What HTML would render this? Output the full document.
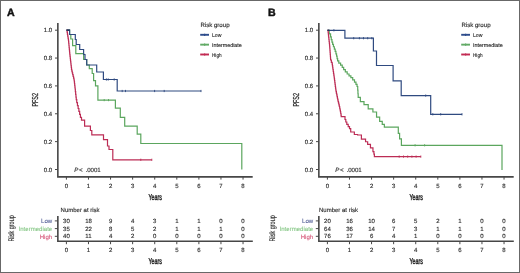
<!DOCTYPE html>
<html><head><meta charset="utf-8"><style>
html,body{margin:0;padding:0;background:#fff;}
body{width:520px;height:273px;overflow:hidden;font-family:"Liberation Sans",sans-serif;}
svg{display:block;will-change:transform;}
</style></head><body>
<svg width="520" height="273" viewBox="0 0 520 273" font-family="Liberation Sans, sans-serif" text-rendering="geometricPrecision">
<rect x="0" y="0" width="520" height="273" fill="#fff"/>
<g><text x="7" y="15.9" font-size="10.6" font-weight="bold" fill="#111" stroke="#111" stroke-width="0.45">A</text>
<path d="M57.85 23V176.85H252.7" fill="none" stroke="#474747" stroke-width="1.6"/>
<line x1="55" y1="169.5" x2="57.7" y2="169.5" stroke="#474747" stroke-width="1"/>
<text x="52.2" y="171.6" font-size="6" text-anchor="end" fill="#2a2a2a" stroke="#2a2a2a" stroke-width="0.13">0.0</text>
<line x1="55" y1="141.64" x2="57.7" y2="141.64" stroke="#474747" stroke-width="1"/>
<text x="52.2" y="143.74" font-size="6" text-anchor="end" fill="#2a2a2a" stroke="#2a2a2a" stroke-width="0.13">0.2</text>
<line x1="55" y1="113.78" x2="57.7" y2="113.78" stroke="#474747" stroke-width="1"/>
<text x="52.2" y="115.88" font-size="6" text-anchor="end" fill="#2a2a2a" stroke="#2a2a2a" stroke-width="0.13">0.4</text>
<line x1="55" y1="85.92" x2="57.7" y2="85.92" stroke="#474747" stroke-width="1"/>
<text x="52.2" y="88.02" font-size="6" text-anchor="end" fill="#2a2a2a" stroke="#2a2a2a" stroke-width="0.13">0.6</text>
<line x1="55" y1="58.06" x2="57.7" y2="58.06" stroke="#474747" stroke-width="1"/>
<text x="52.2" y="60.16" font-size="6" text-anchor="end" fill="#2a2a2a" stroke="#2a2a2a" stroke-width="0.13">0.8</text>
<line x1="55" y1="30.2" x2="57.7" y2="30.2" stroke="#474747" stroke-width="1"/>
<text x="52.2" y="32.3" font-size="6" text-anchor="end" fill="#2a2a2a" stroke="#2a2a2a" stroke-width="0.13">1.0</text>
<line x1="66.4" y1="176.6" x2="66.4" y2="179.6" stroke="#474747" stroke-width="1"/>
<text x="66.4" y="188.1" font-size="6" text-anchor="middle" fill="#2a2a2a" stroke="#2a2a2a" stroke-width="0.13">0</text>
<line x1="88.48" y1="176.6" x2="88.48" y2="179.6" stroke="#474747" stroke-width="1"/>
<text x="88.48" y="188.1" font-size="6" text-anchor="middle" fill="#2a2a2a" stroke="#2a2a2a" stroke-width="0.13">1</text>
<line x1="110.56" y1="176.6" x2="110.56" y2="179.6" stroke="#474747" stroke-width="1"/>
<text x="110.56" y="188.1" font-size="6" text-anchor="middle" fill="#2a2a2a" stroke="#2a2a2a" stroke-width="0.13">2</text>
<line x1="132.64" y1="176.6" x2="132.64" y2="179.6" stroke="#474747" stroke-width="1"/>
<text x="132.64" y="188.1" font-size="6" text-anchor="middle" fill="#2a2a2a" stroke="#2a2a2a" stroke-width="0.13">3</text>
<line x1="154.72" y1="176.6" x2="154.72" y2="179.6" stroke="#474747" stroke-width="1"/>
<text x="154.72" y="188.1" font-size="6" text-anchor="middle" fill="#2a2a2a" stroke="#2a2a2a" stroke-width="0.13">4</text>
<line x1="176.8" y1="176.6" x2="176.8" y2="179.6" stroke="#474747" stroke-width="1"/>
<text x="176.8" y="188.1" font-size="6" text-anchor="middle" fill="#2a2a2a" stroke="#2a2a2a" stroke-width="0.13">5</text>
<line x1="198.88" y1="176.6" x2="198.88" y2="179.6" stroke="#474747" stroke-width="1"/>
<text x="198.88" y="188.1" font-size="6" text-anchor="middle" fill="#2a2a2a" stroke="#2a2a2a" stroke-width="0.13">6</text>
<line x1="220.96" y1="176.6" x2="220.96" y2="179.6" stroke="#474747" stroke-width="1"/>
<text x="220.96" y="188.1" font-size="6" text-anchor="middle" fill="#2a2a2a" stroke="#2a2a2a" stroke-width="0.13">7</text>
<line x1="243.04" y1="176.6" x2="243.04" y2="179.6" stroke="#474747" stroke-width="1"/>
<text x="243.04" y="188.1" font-size="6" text-anchor="middle" fill="#2a2a2a" stroke="#2a2a2a" stroke-width="0.13">8</text>
<text transform="translate(155.1 199.8) scale(0.62 1)" font-size="8.6" text-anchor="middle" fill="#222" stroke="#222" stroke-width="0.42">Years</text>
<text transform="translate(37.9 99.8) rotate(-90) scale(0.63 1)" font-size="8.6" text-anchor="middle" fill="#2a2a2a" stroke="#2a2a2a" stroke-width="0.3">PFS2</text>
<text x="200.4" y="27.1" font-size="6.1" fill="#2a2a2a" stroke="#2a2a2a" stroke-width="0.13">Risk group</text>
<line x1="200.2" y1="34.8" x2="209" y2="34.8" stroke="#2e4d8c" stroke-width="1.9"/>
<line x1="204.6" y1="33.7" x2="204.6" y2="35.9" stroke="#2e4d8c" stroke-width="1.2"/>
<text x="212" y="36.8" font-size="5.5" fill="#2a2a2a" textLength="9.4" lengthAdjust="spacingAndGlyphs" stroke="#2a2a2a" stroke-width="0.13">Low</text>
<line x1="200.2" y1="44.65" x2="209" y2="44.65" stroke="#62aa66" stroke-width="1.9"/>
<line x1="204.6" y1="43.55" x2="204.6" y2="45.75" stroke="#62aa66" stroke-width="1.2"/>
<text x="212" y="46.65" font-size="5.5" fill="#2a2a2a" textLength="29.8" lengthAdjust="spacingAndGlyphs" stroke="#2a2a2a" stroke-width="0.13">Intermediate</text>
<line x1="200.2" y1="54.5" x2="209" y2="54.5" stroke="#c22a52" stroke-width="1.9"/>
<line x1="204.6" y1="53.4" x2="204.6" y2="55.6" stroke="#c22a52" stroke-width="1.2"/>
<text x="212" y="56.5" font-size="5.5" fill="#2a2a2a" textLength="9.6" lengthAdjust="spacingAndGlyphs" stroke="#2a2a2a" stroke-width="0.13">High</text>
<text x="74.3" y="171.5" font-size="6.1" font-style="italic" fill="#2a2a2a" stroke="#2a2a2a" stroke-width="0.13">P</text>
<text x="78.9" y="171.5" font-size="6.2" fill="#2a2a2a" stroke="#2a2a2a" stroke-width="0.13">&lt;</text>
<text x="85.5" y="171.5" font-size="6.1" fill="#2a2a2a" stroke="#2a2a2a" stroke-width="0.13">.0001</text>
<text x="60.6" y="211.6" font-size="6" fill="#2a2a2a" stroke="#2a2a2a" stroke-width="0.13">Number at risk</text>
<path d="M57.85 216V241.3H252.8" fill="none" stroke="#474747" stroke-width="1.6"/>
<line x1="54.8" y1="220.9" x2="57.7" y2="220.9" stroke="#474747" stroke-width="1"/>
<text x="52.2" y="223.1" font-size="6.05" text-anchor="end" fill="#525f96" stroke="#525f96" stroke-width="0.1">Low</text>
<line x1="54.8" y1="228.6" x2="57.7" y2="228.6" stroke="#474747" stroke-width="1"/>
<text x="52.2" y="230.8" font-size="6.05" text-anchor="end" fill="#88c888" stroke="#88c888" stroke-width="0.1">Intermediate</text>
<line x1="54.8" y1="236.3" x2="57.7" y2="236.3" stroke="#474747" stroke-width="1"/>
<text x="52.2" y="238.5" font-size="6.05" text-anchor="end" fill="#d6587a" stroke="#d6587a" stroke-width="0.1">High</text>
<line x1="66.4" y1="241.2" x2="66.4" y2="244.2" stroke="#474747" stroke-width="1"/>
<text x="66.4" y="252.1" font-size="6" text-anchor="middle" fill="#2a2a2a" stroke="#2a2a2a" stroke-width="0.13">0</text>
<line x1="88.48" y1="241.2" x2="88.48" y2="244.2" stroke="#474747" stroke-width="1"/>
<text x="88.48" y="252.1" font-size="6" text-anchor="middle" fill="#2a2a2a" stroke="#2a2a2a" stroke-width="0.13">1</text>
<line x1="110.56" y1="241.2" x2="110.56" y2="244.2" stroke="#474747" stroke-width="1"/>
<text x="110.56" y="252.1" font-size="6" text-anchor="middle" fill="#2a2a2a" stroke="#2a2a2a" stroke-width="0.13">2</text>
<line x1="132.64" y1="241.2" x2="132.64" y2="244.2" stroke="#474747" stroke-width="1"/>
<text x="132.64" y="252.1" font-size="6" text-anchor="middle" fill="#2a2a2a" stroke="#2a2a2a" stroke-width="0.13">3</text>
<line x1="154.72" y1="241.2" x2="154.72" y2="244.2" stroke="#474747" stroke-width="1"/>
<text x="154.72" y="252.1" font-size="6" text-anchor="middle" fill="#2a2a2a" stroke="#2a2a2a" stroke-width="0.13">4</text>
<line x1="176.8" y1="241.2" x2="176.8" y2="244.2" stroke="#474747" stroke-width="1"/>
<text x="176.8" y="252.1" font-size="6" text-anchor="middle" fill="#2a2a2a" stroke="#2a2a2a" stroke-width="0.13">5</text>
<line x1="198.88" y1="241.2" x2="198.88" y2="244.2" stroke="#474747" stroke-width="1"/>
<text x="198.88" y="252.1" font-size="6" text-anchor="middle" fill="#2a2a2a" stroke="#2a2a2a" stroke-width="0.13">6</text>
<line x1="220.96" y1="241.2" x2="220.96" y2="244.2" stroke="#474747" stroke-width="1"/>
<text x="220.96" y="252.1" font-size="6" text-anchor="middle" fill="#2a2a2a" stroke="#2a2a2a" stroke-width="0.13">7</text>
<line x1="243.04" y1="241.2" x2="243.04" y2="244.2" stroke="#474747" stroke-width="1"/>
<text x="243.04" y="252.1" font-size="6" text-anchor="middle" fill="#2a2a2a" stroke="#2a2a2a" stroke-width="0.13">8</text>
<text transform="translate(155.1 264.3) scale(0.62 1)" font-size="8.6" text-anchor="middle" fill="#222" stroke="#222" stroke-width="0.42">Years</text>
<text transform="translate(13.9 228.4) rotate(-90) scale(0.68 1)" font-size="8.1" text-anchor="middle" fill="#333" stroke="#333" stroke-width="0.15">Risk group</text><text x="66.4" y="223" font-size="6" text-anchor="middle" fill="#2a2a2a" stroke="#2a2a2a" stroke-width="0.13">30</text>
<text x="88.48" y="223" font-size="6" text-anchor="middle" fill="#2a2a2a" stroke="#2a2a2a" stroke-width="0.13">18</text>
<text x="110.56" y="223" font-size="6" text-anchor="middle" fill="#2a2a2a" stroke="#2a2a2a" stroke-width="0.13">9</text>
<text x="132.64" y="223" font-size="6" text-anchor="middle" fill="#2a2a2a" stroke="#2a2a2a" stroke-width="0.13">4</text>
<text x="154.72" y="223" font-size="6" text-anchor="middle" fill="#2a2a2a" stroke="#2a2a2a" stroke-width="0.13">3</text>
<text x="176.8" y="223" font-size="6" text-anchor="middle" fill="#2a2a2a" stroke="#2a2a2a" stroke-width="0.13">1</text>
<text x="198.88" y="223" font-size="6" text-anchor="middle" fill="#2a2a2a" stroke="#2a2a2a" stroke-width="0.13">1</text>
<text x="220.96" y="223" font-size="6" text-anchor="middle" fill="#2a2a2a" stroke="#2a2a2a" stroke-width="0.13">0</text>
<text x="243.04" y="223" font-size="6" text-anchor="middle" fill="#2a2a2a" stroke="#2a2a2a" stroke-width="0.13">0</text>
<text x="66.4" y="230.7" font-size="6" text-anchor="middle" fill="#2a2a2a" stroke="#2a2a2a" stroke-width="0.13">35</text>
<text x="88.48" y="230.7" font-size="6" text-anchor="middle" fill="#2a2a2a" stroke="#2a2a2a" stroke-width="0.13">22</text>
<text x="110.56" y="230.7" font-size="6" text-anchor="middle" fill="#2a2a2a" stroke="#2a2a2a" stroke-width="0.13">8</text>
<text x="132.64" y="230.7" font-size="6" text-anchor="middle" fill="#2a2a2a" stroke="#2a2a2a" stroke-width="0.13">5</text>
<text x="154.72" y="230.7" font-size="6" text-anchor="middle" fill="#2a2a2a" stroke="#2a2a2a" stroke-width="0.13">2</text>
<text x="176.8" y="230.7" font-size="6" text-anchor="middle" fill="#2a2a2a" stroke="#2a2a2a" stroke-width="0.13">1</text>
<text x="198.88" y="230.7" font-size="6" text-anchor="middle" fill="#2a2a2a" stroke="#2a2a2a" stroke-width="0.13">1</text>
<text x="220.96" y="230.7" font-size="6" text-anchor="middle" fill="#2a2a2a" stroke="#2a2a2a" stroke-width="0.13">1</text>
<text x="243.04" y="230.7" font-size="6" text-anchor="middle" fill="#2a2a2a" stroke="#2a2a2a" stroke-width="0.13">0</text>
<text x="66.4" y="238.4" font-size="6" text-anchor="middle" fill="#2a2a2a" stroke="#2a2a2a" stroke-width="0.13">40</text>
<text x="88.48" y="238.4" font-size="6" text-anchor="middle" fill="#2a2a2a" stroke="#2a2a2a" stroke-width="0.13">11</text>
<text x="110.56" y="238.4" font-size="6" text-anchor="middle" fill="#2a2a2a" stroke="#2a2a2a" stroke-width="0.13">4</text>
<text x="132.64" y="238.4" font-size="6" text-anchor="middle" fill="#2a2a2a" stroke="#2a2a2a" stroke-width="0.13">2</text>
<text x="154.72" y="238.4" font-size="6" text-anchor="middle" fill="#2a2a2a" stroke="#2a2a2a" stroke-width="0.13">0</text>
<text x="176.8" y="238.4" font-size="6" text-anchor="middle" fill="#2a2a2a" stroke="#2a2a2a" stroke-width="0.13">0</text>
<text x="198.88" y="238.4" font-size="6" text-anchor="middle" fill="#2a2a2a" stroke="#2a2a2a" stroke-width="0.13">0</text>
<text x="220.96" y="238.4" font-size="6" text-anchor="middle" fill="#2a2a2a" stroke="#2a2a2a" stroke-width="0.13">0</text>
<text x="243.04" y="238.4" font-size="6" text-anchor="middle" fill="#2a2a2a" stroke="#2a2a2a" stroke-width="0.13">0</text></g>
<g transform="translate(261 0)"><text x="7" y="15.9" font-size="10.6" font-weight="bold" fill="#111" stroke="#111" stroke-width="0.45">B</text>
<path d="M57.85 23V176.85H252.7" fill="none" stroke="#474747" stroke-width="1.6"/>
<line x1="55" y1="169.5" x2="57.7" y2="169.5" stroke="#474747" stroke-width="1"/>
<text x="52.2" y="171.6" font-size="6" text-anchor="end" fill="#2a2a2a" stroke="#2a2a2a" stroke-width="0.13">0.0</text>
<line x1="55" y1="141.64" x2="57.7" y2="141.64" stroke="#474747" stroke-width="1"/>
<text x="52.2" y="143.74" font-size="6" text-anchor="end" fill="#2a2a2a" stroke="#2a2a2a" stroke-width="0.13">0.2</text>
<line x1="55" y1="113.78" x2="57.7" y2="113.78" stroke="#474747" stroke-width="1"/>
<text x="52.2" y="115.88" font-size="6" text-anchor="end" fill="#2a2a2a" stroke="#2a2a2a" stroke-width="0.13">0.4</text>
<line x1="55" y1="85.92" x2="57.7" y2="85.92" stroke="#474747" stroke-width="1"/>
<text x="52.2" y="88.02" font-size="6" text-anchor="end" fill="#2a2a2a" stroke="#2a2a2a" stroke-width="0.13">0.6</text>
<line x1="55" y1="58.06" x2="57.7" y2="58.06" stroke="#474747" stroke-width="1"/>
<text x="52.2" y="60.16" font-size="6" text-anchor="end" fill="#2a2a2a" stroke="#2a2a2a" stroke-width="0.13">0.8</text>
<line x1="55" y1="30.2" x2="57.7" y2="30.2" stroke="#474747" stroke-width="1"/>
<text x="52.2" y="32.3" font-size="6" text-anchor="end" fill="#2a2a2a" stroke="#2a2a2a" stroke-width="0.13">1.0</text>
<line x1="66.4" y1="176.6" x2="66.4" y2="179.6" stroke="#474747" stroke-width="1"/>
<text x="66.4" y="188.1" font-size="6" text-anchor="middle" fill="#2a2a2a" stroke="#2a2a2a" stroke-width="0.13">0</text>
<line x1="88.48" y1="176.6" x2="88.48" y2="179.6" stroke="#474747" stroke-width="1"/>
<text x="88.48" y="188.1" font-size="6" text-anchor="middle" fill="#2a2a2a" stroke="#2a2a2a" stroke-width="0.13">1</text>
<line x1="110.56" y1="176.6" x2="110.56" y2="179.6" stroke="#474747" stroke-width="1"/>
<text x="110.56" y="188.1" font-size="6" text-anchor="middle" fill="#2a2a2a" stroke="#2a2a2a" stroke-width="0.13">2</text>
<line x1="132.64" y1="176.6" x2="132.64" y2="179.6" stroke="#474747" stroke-width="1"/>
<text x="132.64" y="188.1" font-size="6" text-anchor="middle" fill="#2a2a2a" stroke="#2a2a2a" stroke-width="0.13">3</text>
<line x1="154.72" y1="176.6" x2="154.72" y2="179.6" stroke="#474747" stroke-width="1"/>
<text x="154.72" y="188.1" font-size="6" text-anchor="middle" fill="#2a2a2a" stroke="#2a2a2a" stroke-width="0.13">4</text>
<line x1="176.8" y1="176.6" x2="176.8" y2="179.6" stroke="#474747" stroke-width="1"/>
<text x="176.8" y="188.1" font-size="6" text-anchor="middle" fill="#2a2a2a" stroke="#2a2a2a" stroke-width="0.13">5</text>
<line x1="198.88" y1="176.6" x2="198.88" y2="179.6" stroke="#474747" stroke-width="1"/>
<text x="198.88" y="188.1" font-size="6" text-anchor="middle" fill="#2a2a2a" stroke="#2a2a2a" stroke-width="0.13">6</text>
<line x1="220.96" y1="176.6" x2="220.96" y2="179.6" stroke="#474747" stroke-width="1"/>
<text x="220.96" y="188.1" font-size="6" text-anchor="middle" fill="#2a2a2a" stroke="#2a2a2a" stroke-width="0.13">7</text>
<line x1="243.04" y1="176.6" x2="243.04" y2="179.6" stroke="#474747" stroke-width="1"/>
<text x="243.04" y="188.1" font-size="6" text-anchor="middle" fill="#2a2a2a" stroke="#2a2a2a" stroke-width="0.13">8</text>
<text transform="translate(155.1 199.8) scale(0.62 1)" font-size="8.6" text-anchor="middle" fill="#222" stroke="#222" stroke-width="0.42">Years</text>
<text transform="translate(37.9 99.8) rotate(-90) scale(0.63 1)" font-size="8.6" text-anchor="middle" fill="#2a2a2a" stroke="#2a2a2a" stroke-width="0.3">PFS2</text>
<text x="200.4" y="27.1" font-size="6.1" fill="#2a2a2a" stroke="#2a2a2a" stroke-width="0.13">Risk group</text>
<line x1="200.2" y1="34.8" x2="209" y2="34.8" stroke="#2e4d8c" stroke-width="1.9"/>
<line x1="204.6" y1="33.7" x2="204.6" y2="35.9" stroke="#2e4d8c" stroke-width="1.2"/>
<text x="212" y="36.8" font-size="5.5" fill="#2a2a2a" textLength="9.4" lengthAdjust="spacingAndGlyphs" stroke="#2a2a2a" stroke-width="0.13">Low</text>
<line x1="200.2" y1="44.65" x2="209" y2="44.65" stroke="#62aa66" stroke-width="1.9"/>
<line x1="204.6" y1="43.55" x2="204.6" y2="45.75" stroke="#62aa66" stroke-width="1.2"/>
<text x="212" y="46.65" font-size="5.5" fill="#2a2a2a" textLength="29.8" lengthAdjust="spacingAndGlyphs" stroke="#2a2a2a" stroke-width="0.13">Intermediate</text>
<line x1="200.2" y1="54.5" x2="209" y2="54.5" stroke="#c22a52" stroke-width="1.9"/>
<line x1="204.6" y1="53.4" x2="204.6" y2="55.6" stroke="#c22a52" stroke-width="1.2"/>
<text x="212" y="56.5" font-size="5.5" fill="#2a2a2a" textLength="9.6" lengthAdjust="spacingAndGlyphs" stroke="#2a2a2a" stroke-width="0.13">High</text>
<text x="74.3" y="171.5" font-size="6.1" font-style="italic" fill="#2a2a2a" stroke="#2a2a2a" stroke-width="0.13">P</text>
<text x="78.9" y="171.5" font-size="6.2" fill="#2a2a2a" stroke="#2a2a2a" stroke-width="0.13">&lt;</text>
<text x="85.5" y="171.5" font-size="6.1" fill="#2a2a2a" stroke="#2a2a2a" stroke-width="0.13">.0001</text>
<text x="58" y="211.6" font-size="6" fill="#2a2a2a" stroke="#2a2a2a" stroke-width="0.13">Number at risk</text>
<path d="M57.85 216V241.3H252.8" fill="none" stroke="#474747" stroke-width="1.6"/>
<line x1="54.8" y1="220.9" x2="57.7" y2="220.9" stroke="#474747" stroke-width="1"/>
<text x="52.2" y="223.1" font-size="6.05" text-anchor="end" fill="#525f96" stroke="#525f96" stroke-width="0.1">Low</text>
<line x1="54.8" y1="228.6" x2="57.7" y2="228.6" stroke="#474747" stroke-width="1"/>
<text x="52.2" y="230.8" font-size="6.05" text-anchor="end" fill="#88c888" stroke="#88c888" stroke-width="0.1">Intermediate</text>
<line x1="54.8" y1="236.3" x2="57.7" y2="236.3" stroke="#474747" stroke-width="1"/>
<text x="52.2" y="238.5" font-size="6.05" text-anchor="end" fill="#d6587a" stroke="#d6587a" stroke-width="0.1">High</text>
<line x1="66.4" y1="241.2" x2="66.4" y2="244.2" stroke="#474747" stroke-width="1"/>
<text x="66.4" y="252.1" font-size="6" text-anchor="middle" fill="#2a2a2a" stroke="#2a2a2a" stroke-width="0.13">0</text>
<line x1="88.48" y1="241.2" x2="88.48" y2="244.2" stroke="#474747" stroke-width="1"/>
<text x="88.48" y="252.1" font-size="6" text-anchor="middle" fill="#2a2a2a" stroke="#2a2a2a" stroke-width="0.13">1</text>
<line x1="110.56" y1="241.2" x2="110.56" y2="244.2" stroke="#474747" stroke-width="1"/>
<text x="110.56" y="252.1" font-size="6" text-anchor="middle" fill="#2a2a2a" stroke="#2a2a2a" stroke-width="0.13">2</text>
<line x1="132.64" y1="241.2" x2="132.64" y2="244.2" stroke="#474747" stroke-width="1"/>
<text x="132.64" y="252.1" font-size="6" text-anchor="middle" fill="#2a2a2a" stroke="#2a2a2a" stroke-width="0.13">3</text>
<line x1="154.72" y1="241.2" x2="154.72" y2="244.2" stroke="#474747" stroke-width="1"/>
<text x="154.72" y="252.1" font-size="6" text-anchor="middle" fill="#2a2a2a" stroke="#2a2a2a" stroke-width="0.13">4</text>
<line x1="176.8" y1="241.2" x2="176.8" y2="244.2" stroke="#474747" stroke-width="1"/>
<text x="176.8" y="252.1" font-size="6" text-anchor="middle" fill="#2a2a2a" stroke="#2a2a2a" stroke-width="0.13">5</text>
<line x1="198.88" y1="241.2" x2="198.88" y2="244.2" stroke="#474747" stroke-width="1"/>
<text x="198.88" y="252.1" font-size="6" text-anchor="middle" fill="#2a2a2a" stroke="#2a2a2a" stroke-width="0.13">6</text>
<line x1="220.96" y1="241.2" x2="220.96" y2="244.2" stroke="#474747" stroke-width="1"/>
<text x="220.96" y="252.1" font-size="6" text-anchor="middle" fill="#2a2a2a" stroke="#2a2a2a" stroke-width="0.13">7</text>
<line x1="243.04" y1="241.2" x2="243.04" y2="244.2" stroke="#474747" stroke-width="1"/>
<text x="243.04" y="252.1" font-size="6" text-anchor="middle" fill="#2a2a2a" stroke="#2a2a2a" stroke-width="0.13">8</text>
<text transform="translate(155.1 264.3) scale(0.62 1)" font-size="8.6" text-anchor="middle" fill="#222" stroke="#222" stroke-width="0.42">Years</text>
<text transform="translate(13.9 228.4) rotate(-90) scale(0.68 1)" font-size="8.1" text-anchor="middle" fill="#333" stroke="#333" stroke-width="0.15">Risk group</text><text x="66.4" y="223" font-size="6" text-anchor="middle" fill="#2a2a2a" stroke="#2a2a2a" stroke-width="0.13">20</text>
<text x="88.48" y="223" font-size="6" text-anchor="middle" fill="#2a2a2a" stroke="#2a2a2a" stroke-width="0.13">16</text>
<text x="110.56" y="223" font-size="6" text-anchor="middle" fill="#2a2a2a" stroke="#2a2a2a" stroke-width="0.13">10</text>
<text x="132.64" y="223" font-size="6" text-anchor="middle" fill="#2a2a2a" stroke="#2a2a2a" stroke-width="0.13">6</text>
<text x="154.72" y="223" font-size="6" text-anchor="middle" fill="#2a2a2a" stroke="#2a2a2a" stroke-width="0.13">5</text>
<text x="176.8" y="223" font-size="6" text-anchor="middle" fill="#2a2a2a" stroke="#2a2a2a" stroke-width="0.13">2</text>
<text x="198.88" y="223" font-size="6" text-anchor="middle" fill="#2a2a2a" stroke="#2a2a2a" stroke-width="0.13">1</text>
<text x="220.96" y="223" font-size="6" text-anchor="middle" fill="#2a2a2a" stroke="#2a2a2a" stroke-width="0.13">0</text>
<text x="243.04" y="223" font-size="6" text-anchor="middle" fill="#2a2a2a" stroke="#2a2a2a" stroke-width="0.13">0</text>
<text x="66.4" y="230.7" font-size="6" text-anchor="middle" fill="#2a2a2a" stroke="#2a2a2a" stroke-width="0.13">64</text>
<text x="88.48" y="230.7" font-size="6" text-anchor="middle" fill="#2a2a2a" stroke="#2a2a2a" stroke-width="0.13">36</text>
<text x="110.56" y="230.7" font-size="6" text-anchor="middle" fill="#2a2a2a" stroke="#2a2a2a" stroke-width="0.13">14</text>
<text x="132.64" y="230.7" font-size="6" text-anchor="middle" fill="#2a2a2a" stroke="#2a2a2a" stroke-width="0.13">7</text>
<text x="154.72" y="230.7" font-size="6" text-anchor="middle" fill="#2a2a2a" stroke="#2a2a2a" stroke-width="0.13">3</text>
<text x="176.8" y="230.7" font-size="6" text-anchor="middle" fill="#2a2a2a" stroke="#2a2a2a" stroke-width="0.13">1</text>
<text x="198.88" y="230.7" font-size="6" text-anchor="middle" fill="#2a2a2a" stroke="#2a2a2a" stroke-width="0.13">1</text>
<text x="220.96" y="230.7" font-size="6" text-anchor="middle" fill="#2a2a2a" stroke="#2a2a2a" stroke-width="0.13">1</text>
<text x="243.04" y="230.7" font-size="6" text-anchor="middle" fill="#2a2a2a" stroke="#2a2a2a" stroke-width="0.13">0</text>
<text x="66.4" y="238.4" font-size="6" text-anchor="middle" fill="#2a2a2a" stroke="#2a2a2a" stroke-width="0.13">76</text>
<text x="88.48" y="238.4" font-size="6" text-anchor="middle" fill="#2a2a2a" stroke="#2a2a2a" stroke-width="0.13">17</text>
<text x="110.56" y="238.4" font-size="6" text-anchor="middle" fill="#2a2a2a" stroke="#2a2a2a" stroke-width="0.13">6</text>
<text x="132.64" y="238.4" font-size="6" text-anchor="middle" fill="#2a2a2a" stroke="#2a2a2a" stroke-width="0.13">4</text>
<text x="154.72" y="238.4" font-size="6" text-anchor="middle" fill="#2a2a2a" stroke="#2a2a2a" stroke-width="0.13">1</text>
<text x="176.8" y="238.4" font-size="6" text-anchor="middle" fill="#2a2a2a" stroke="#2a2a2a" stroke-width="0.13">0</text>
<text x="198.88" y="238.4" font-size="6" text-anchor="middle" fill="#2a2a2a" stroke="#2a2a2a" stroke-width="0.13">0</text>
<text x="220.96" y="238.4" font-size="6" text-anchor="middle" fill="#2a2a2a" stroke="#2a2a2a" stroke-width="0.13">0</text>
<text x="243.04" y="238.4" font-size="6" text-anchor="middle" fill="#2a2a2a" stroke="#2a2a2a" stroke-width="0.13">0</text></g>
<path d="M66.6 30.2H69.6V34.5H70.8V39H72.6V45.6H75.8V53.6H83.6V59.5H86.7V65H89.3V68.6H92.2V73.5H93.6V80.6H95.5V85.8H97.9V100.1H115.4V108.1H120.3V117.4H124.7V126.2H137.2V134.2H140.8V143.5H241.8V169.4" fill="none" stroke="#5ba65e" stroke-width="1.2"/>
<path d="M66.6 30.2H69.6V34.5H75.3V39.5H76.2V44.5H79.7V49.5H83.6V54.5H85V59.5H86.7V65H96.7V72H103.4V79.5H117.2V91H201" fill="none" stroke="#2f4a80" stroke-width="1.2"/>
<path d="M66.6 30.2H67.06V32.16H67.38V34.12H67.7V36.08H68.02V38.04H68.34V40H68.59V41.83H68.76V43.65H68.94V45.48H69.11V47.3H69.29V49.12H69.46V50.95H69.64V52.78H69.81V54.6H70.01V56.44H70.22V58.27H70.43V60.11H70.64V61.95H70.86V63.79H71.07V65.62H71.28V67.46H71.49V69.3H71.82V71.08H72.25V72.87H72.68V74.65H73.12V76.43H73.55V78.22H73.98V80H74.3V81.8H74.5V83.6H74.7V85.4H74.9V87.2H75.1V89H75.35V91.67H75.65V94.35H75.95V97.03H76.25V99.7H76.75V102.63H77.45V105.57H78.15V108.5H78.88V111.43H79.65V114.37H80.42V117.3H81.5V120.2H84.6V126.2H90.4V130.5H91.8V134.9H103.5V139.6H107.5V146H109V149.5H112.8V159.8H151.8" fill="none" stroke="#bc2c55" stroke-width="1.2"/>
<path d="M327.6 30.3H329.25V33.9H330.55V36.8H331.25V39.7H331.95V42.05H332.65V44.4H333.45V46.75H334.35V49.1H335.18V51.45H335.93V53.8H336.57V56.17H337.1V58.53H337.63V60.9H338.8V63.05H340.6V65.2H342.23V67.4H343.67V69.6H345.32V71.8H347.18V74H349.03V75.85H350.88V77.7H352.7V79.9H354.5V82.1H355.95V84.3H357.05V86.5H357.72V90.13H357.95V93.77H358.18V97.4H360.35V101.6H364V104.7H368.2V108.9H372.9V112H376.55V117.2H379.65V121.4H382.25V124.3H384.35V127.2H398.3V133.3H399.6V138.8H401.4V145.3H502V169.9" fill="none" stroke="#5ba65e" stroke-width="1.2"/>
<path d="M327.6 30.3H344.9V38.2H373.4V51H376.5V65.5H393.1V80.9H401.2V95.6H430.7V114.3H462" fill="none" stroke="#2f4a80" stroke-width="1.2"/>
<path d="M327.6 30.3H328.1V32.14H328.3V33.98H328.5V35.81H328.7V37.65H328.9V39.49H329.1V41.33H329.3V43.16H329.5V45H329.67V46.88H329.81V48.75H329.94V50.62H330.08V52.5H330.22V54.38H330.36V56.25H330.49V58.12H330.63V60H331.35V62.3H332.14V64.14H332.41V65.97H332.69V67.81H332.96V69.65H333.24V71.49H333.51V73.33H333.79V75.16H334.06V77H334.32V78.86H334.56V80.71H334.81V82.57H335.05V84.43H335.29V86.29H335.54V88.14H335.78V90H336.07V91.65H336.4V93.3H336.73V94.95H337.07V96.6H337.4V98.25H337.73V99.9H338.1V101.55H338.5V103.2H338.9V104.85H339.3V106.5H339.68V108.25H340.02V110H340.38V111.75H340.72V113.5H341V115.1H341.2V116.7H345V119.5H345.8V122H346.8V124.4H348.2V126.6H349.5V128.7H350.7V132H354.35V134.5H357.55V135H361.4V139.1H365.55V141.75H367.65V144.4H370.45V147.9H372.95V151.6H373.93V154.1H374.38V156.6H420.8" fill="none" stroke="#bc2c55" stroke-width="1.2"/>
<path d="M66.4 30.2H69.8" stroke="#24365e" stroke-width="1.5"/>
<path d="M327.4 30.3H329.4" stroke="#24365e" stroke-width="1.4"/>
<line x1="106.4" y1="78.4" x2="106.4" y2="80.6" stroke="#2f4a80" stroke-width="0.9"/>
<line x1="108.2" y1="78.4" x2="108.2" y2="80.6" stroke="#2f4a80" stroke-width="0.9"/>
<line x1="114.2" y1="78.4" x2="114.2" y2="80.6" stroke="#2f4a80" stroke-width="0.9"/>
<line x1="122.2" y1="89.9" x2="122.2" y2="92.1" stroke="#2f4a80" stroke-width="0.9"/>
<line x1="125.5" y1="89.9" x2="125.5" y2="92.1" stroke="#2f4a80" stroke-width="0.9"/>
<line x1="154.6" y1="89.9" x2="154.6" y2="92.1" stroke="#2f4a80" stroke-width="0.9"/>
<line x1="164.2" y1="89.9" x2="164.2" y2="92.1" stroke="#2f4a80" stroke-width="0.9"/>
<line x1="201" y1="89.9" x2="201" y2="92.1" stroke="#2f4a80" stroke-width="0.9"/>
<line x1="104.2" y1="99" x2="104.2" y2="101.2" stroke="#5ba65e" stroke-width="0.9"/>
<line x1="108.5" y1="99" x2="108.5" y2="101.2" stroke="#5ba65e" stroke-width="0.9"/>
<line x1="140.8" y1="158.7" x2="140.8" y2="160.9" stroke="#bc2c55" stroke-width="0.9"/>
<line x1="151.8" y1="158.7" x2="151.8" y2="160.9" stroke="#bc2c55" stroke-width="0.9"/>
<line x1="333.9" y1="29.2" x2="333.9" y2="31.4" stroke="#2f4a80" stroke-width="0.9"/>
<line x1="353.7" y1="37.1" x2="353.7" y2="39.3" stroke="#2f4a80" stroke-width="0.9"/>
<line x1="359.4" y1="37.1" x2="359.4" y2="39.3" stroke="#2f4a80" stroke-width="0.9"/>
<line x1="363.5" y1="37.1" x2="363.5" y2="39.3" stroke="#2f4a80" stroke-width="0.9"/>
<line x1="367.7" y1="37.1" x2="367.7" y2="39.3" stroke="#2f4a80" stroke-width="0.9"/>
<line x1="371.8" y1="37.1" x2="371.8" y2="39.3" stroke="#2f4a80" stroke-width="0.9"/>
<line x1="425.7" y1="94.5" x2="425.7" y2="96.7" stroke="#2f4a80" stroke-width="0.9"/>
<line x1="432.8" y1="113.2" x2="432.8" y2="115.4" stroke="#2f4a80" stroke-width="0.9"/>
<line x1="440.7" y1="113.2" x2="440.7" y2="115.4" stroke="#2f4a80" stroke-width="0.9"/>
<line x1="462" y1="113.2" x2="462" y2="115.4" stroke="#2f4a80" stroke-width="0.9"/>
<line x1="415.1" y1="144.2" x2="415.1" y2="146.4" stroke="#5ba65e" stroke-width="0.9"/>
<line x1="424.6" y1="144.2" x2="424.6" y2="146.4" stroke="#5ba65e" stroke-width="0.9"/>
<line x1="399.2" y1="155.5" x2="399.2" y2="157.7" stroke="#bc2c55" stroke-width="0.9"/>
<line x1="403.5" y1="155.5" x2="403.5" y2="157.7" stroke="#bc2c55" stroke-width="0.9"/>
<line x1="407.7" y1="155.5" x2="407.7" y2="157.7" stroke="#bc2c55" stroke-width="0.9"/>
<line x1="411.9" y1="155.5" x2="411.9" y2="157.7" stroke="#bc2c55" stroke-width="0.9"/>
<line x1="416.1" y1="155.5" x2="416.1" y2="157.7" stroke="#bc2c55" stroke-width="0.9"/>
<line x1="420.8" y1="155.5" x2="420.8" y2="157.7" stroke="#bc2c55" stroke-width="0.9"/>
<rect x="0.5" y="0.5" width="519" height="272" fill="none" stroke="#686868" stroke-width="1"/>
</svg>
</body></html>
